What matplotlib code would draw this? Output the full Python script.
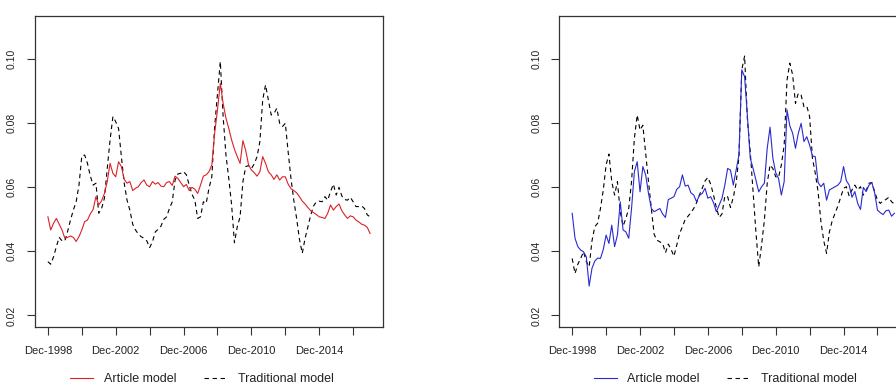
import numpy as np
import matplotlib
matplotlib.use("Agg")
import matplotlib.pyplot as plt

plt.rcParams['font.family'] = ['Liberation Sans', 'DejaVu Sans']

# Bi-monthly observations, Dec-1998 .. Dec-2017
start_year = 1998 + 11 / 12  # Dec-1998
n_obs = 115
t = start_year + np.arange(n_obs) / 6.0

left_article = [
    0.0508, 0.0467, 0.0488, 0.0503, 0.0485, 0.0467, 0.0441, 0.0444, 0.0448, 0.0444,
    0.0431, 0.0446, 0.0467, 0.0493, 0.0498, 0.0517, 0.0531, 0.0571, 0.0545, 0.0558,
    0.0581, 0.0618, 0.0675, 0.0644, 0.0633, 0.0680, 0.0665, 0.0625, 0.0613, 0.0618,
    0.0590, 0.0597, 0.0602, 0.0615, 0.0623, 0.0607, 0.0602, 0.0618, 0.0610, 0.0615,
    0.0604, 0.0602, 0.0615, 0.0618, 0.0606, 0.0635, 0.0628, 0.0615, 0.0602, 0.0609,
    0.0590, 0.0600, 0.0594, 0.0581, 0.0607, 0.0635, 0.0639, 0.0649, 0.0670, 0.0769,
    0.0842, 0.0925, 0.0862, 0.0816, 0.0784, 0.0748, 0.0719, 0.0696, 0.0675, 0.0746,
    0.0715, 0.0670, 0.0654, 0.0646, 0.0635, 0.0649, 0.0696, 0.0675, 0.0649, 0.0639,
    0.0625, 0.0639, 0.0623, 0.0633, 0.0633, 0.0610, 0.0596, 0.0590, 0.0583, 0.0571,
    0.0557, 0.0548, 0.0537, 0.0527, 0.0521, 0.0515, 0.0508, 0.0506, 0.0503, 0.0519,
    0.0545, 0.0529, 0.0540, 0.0548, 0.0527, 0.0514, 0.0503, 0.0511, 0.0508, 0.0498,
    0.0492, 0.0485, 0.0482, 0.0475, 0.0456]

left_traditional = [
    0.0368, 0.0360, 0.0383, 0.0415, 0.0444, 0.0433, 0.0433, 0.0463, 0.0498, 0.0529,
    0.0555, 0.0607, 0.0698, 0.0701, 0.0675, 0.0636, 0.0607, 0.0613, 0.0519, 0.0534,
    0.0566, 0.0659, 0.0748, 0.0821, 0.0805, 0.0784, 0.0696, 0.0613, 0.0560, 0.0529,
    0.0485, 0.0467, 0.0454, 0.0446, 0.0441, 0.0433, 0.0412, 0.0430, 0.0461, 0.0469,
    0.0479, 0.0500, 0.0508, 0.0534, 0.0555, 0.0623, 0.0642, 0.0644, 0.0649, 0.0639,
    0.0607, 0.0578, 0.0560, 0.0503, 0.0508, 0.0555, 0.0550, 0.0597, 0.0633, 0.0790,
    0.0892, 0.0993, 0.0821, 0.0701, 0.0628, 0.0545, 0.0427, 0.0477, 0.0508, 0.0618,
    0.0665, 0.0668, 0.0659, 0.0673, 0.0696, 0.0743, 0.0873, 0.0920, 0.0873, 0.0826,
    0.0831, 0.0847, 0.0800, 0.0790, 0.0800, 0.0711, 0.0628, 0.0560, 0.0503, 0.0438,
    0.0394, 0.0441, 0.0477, 0.0514, 0.0542, 0.0555, 0.0557, 0.0555, 0.0571, 0.0560,
    0.0587, 0.0610, 0.0576, 0.0600, 0.0573, 0.0562, 0.0560, 0.0569, 0.0555, 0.0540,
    0.0540, 0.0542, 0.0534, 0.0514, 0.0508]

right_article = [
    0.0519, 0.0441, 0.0415, 0.0404, 0.0399, 0.0383, 0.0292, 0.0347, 0.0370, 0.0379,
    0.0378, 0.0406, 0.0451, 0.0425, 0.0482, 0.0415, 0.0451, 0.0555, 0.0467, 0.0461,
    0.0441, 0.0534, 0.0649, 0.0680, 0.0586, 0.0665, 0.0639, 0.0581, 0.0534, 0.0524,
    0.0529, 0.0534, 0.0517, 0.0506, 0.0562, 0.0566, 0.0571, 0.0594, 0.0602, 0.0639,
    0.0604, 0.0607, 0.0583, 0.0576, 0.0555, 0.0575, 0.0581, 0.0597, 0.0566, 0.0571,
    0.0552, 0.0524, 0.0545, 0.0566, 0.0607, 0.0659, 0.0654, 0.0607, 0.0654, 0.0701,
    0.0967, 0.0946, 0.0821, 0.0691, 0.0659, 0.0623, 0.0586, 0.0602, 0.0613, 0.0722,
    0.0788, 0.0691, 0.0646, 0.0628, 0.0576, 0.0618, 0.0842, 0.0792, 0.0769, 0.0722,
    0.0769, 0.0800, 0.0743, 0.0758, 0.0732, 0.0698, 0.0696, 0.0615, 0.0602, 0.0613,
    0.0560, 0.0592, 0.0597, 0.0602, 0.0607, 0.0618, 0.0665, 0.0621, 0.0607, 0.0569,
    0.0587, 0.0550, 0.0531, 0.0600, 0.0587, 0.0607, 0.0615, 0.0583, 0.0529, 0.0521,
    0.0515, 0.0527, 0.0529, 0.0510, 0.0519]

right_traditional = [
    0.0378, 0.0331, 0.0360, 0.0378, 0.0399, 0.0368, 0.0352, 0.0433, 0.0477, 0.0488,
    0.0534, 0.0592, 0.0670, 0.0704, 0.0618, 0.0576, 0.0618, 0.0524, 0.0479, 0.0503,
    0.0534, 0.0618, 0.0753, 0.0826, 0.0779, 0.0794, 0.0706, 0.0618, 0.0534, 0.0453,
    0.0435, 0.0430, 0.0425, 0.0396, 0.0423, 0.0406, 0.0385, 0.0420, 0.0456, 0.0477,
    0.0500, 0.0510, 0.0521, 0.0534, 0.0552, 0.0576, 0.0597, 0.0620, 0.0631, 0.0610,
    0.0576, 0.0537, 0.0506, 0.0517, 0.0573, 0.0571, 0.0537, 0.0569, 0.0613, 0.0696,
    0.0967, 0.1010, 0.0810, 0.0711, 0.0586, 0.0461, 0.0352, 0.0420, 0.0498, 0.0613,
    0.0670, 0.0659, 0.0633, 0.0631, 0.0670, 0.0732, 0.0935, 0.0988, 0.0951, 0.0862,
    0.0894, 0.0888, 0.0852, 0.0854, 0.0821, 0.0691, 0.0644, 0.0586, 0.0493, 0.0433,
    0.0394, 0.0461, 0.0496, 0.0519, 0.0542, 0.0569, 0.0597, 0.0602, 0.0573, 0.0592,
    0.0607, 0.0592, 0.0602, 0.0576, 0.0590, 0.0613, 0.0615, 0.0587, 0.0560, 0.0550,
    0.0558, 0.0562, 0.0569, 0.0555, 0.0548]

tick_labels = ["Dec-1998", "", "Dec-2002", "", "Dec-2006", "", "Dec-2010", "", "Dec-2014", ""]
yticks = [0.02, 0.04, 0.06, 0.08, 0.10]
legend_labels = ["Article model", "Traditional model"]

W, H = 896, 386
fig = plt.figure(figsize=(W / 100, H / 100), dpi=100)

text_col = '#222222'
frame_col = '#333333'
dash = (0, (4, 3.2))

def make_panel(left_px, article, traditional, color):
    ax = fig.add_axes([left_px / W, (H - 327) / H, 348 / W, (327 - 15.7) / H])
    ax.plot(t, article, color=color, lw=0.8, zorder=3)
    ax.plot(t, traditional, color='black', lw=0.8, linestyle=dash, zorder=2)
    span = t[-1] - t[0]
    ax.set_xlim(t[0] - 0.04 * span, t[-1] + 0.04 * span)
    ax.set_ylim(0.0164, 0.1136)
    xt = start_year + 2 * np.arange(len(tick_labels))
    ax.set_xticks(xt)
    ax.set_xticklabels(tick_labels, fontsize=8, color=text_col)
    ax.set_yticks(yticks)
    ax.set_yticklabels([f"{v:.2f}" for v in yticks], fontsize=7.5, color=text_col,
                       rotation=90, va='center')
    ax.tick_params(axis='both', length=6, width=0.8, color=frame_col)
    ax.tick_params(axis='x', pad=8)
    ax.tick_params(axis='y', pad=7)
    for s in ax.spines.values():
        s.set_color(frame_col)
        s.set_linewidth(0.9)
    return ax, ax.get_lines()

ax1, h1 = make_panel(35, left_article, left_traditional, '#dd2026')
ax2, h2 = make_panel(559.3, right_article, right_traditional, '#2a2ad0')

for handles, x0 in ((h1, 70), (h2, 593.7)):
    fig.legend(handles, legend_labels, loc='center left',
               bbox_to_anchor=(x0 / W, 6.5 / H), bbox_transform=fig.transFigure,
               ncol=2, frameon=False, fontsize=9, handlelength=1.85,
               handletextpad=0.85, columnspacing=2.2, borderpad=0, borderaxespad=0,
               labelcolor=text_col)

fig.savefig("out.png", dpi=100)
